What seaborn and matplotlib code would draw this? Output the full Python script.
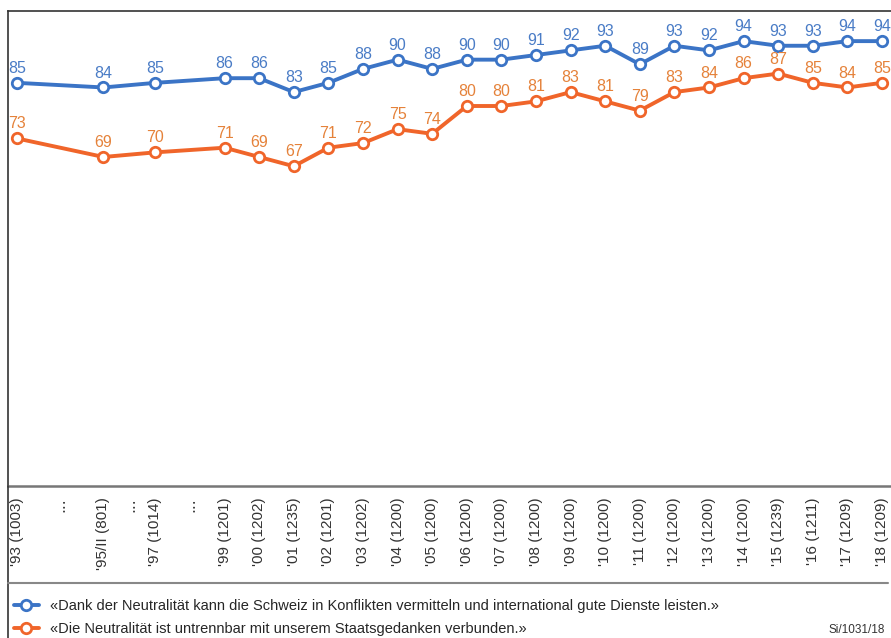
import pandas as pd
import seaborn as sns
import matplotlib.pyplot as plt
from matplotlib.lines import Line2D

# survey years (sample size) and position on the time axis
jahre = ["'93 (1003)", "'95/II (801)", "'97 (1014)", "'99 (1201)", "'00 (1202)",
         "'01 (1235)", "'02 (1201)", "'03 (1202)", "'04 (1200)", "'05 (1200)",
         "'06 (1200)", "'07 (1200)", "'08 (1200)", "'09 (1200)", "'10 (1200)",
         "'11 (1200)", "'12 (1200)", "'13 (1200)", "'14 (1200)", "'15 (1239)",
         "'16 (1211)", "'17 (1209)", "'18 (1209)"]
xpos = [0, 2.5, 4, 6, 7, 8, 9, 10, 11, 12, 13, 14, 15, 16, 17, 18, 19, 20,
        21, 22, 23, 24, 25]
luecken = [1.25, 3.25, 5]   # gaps marked with dots

vermitteln = [85, 84, 85, 86, 86, 83, 85, 88, 90, 88, 90, 90, 91, 92, 93, 89,
              93, 92, 94, 93, 93, 94, 94]
staatsgedanke = [73, 69, 70, 71, 69, 67, 71, 72, 75, 74, 80, 80, 81, 83, 81, 79,
                 83, 84, 86, 87, 85, 84, 85]

label_blau = "«Dank der Neutralität kann die Schweiz in Konflikten vermitteln und international gute Dienste leisten.»"
label_orange = "«Die Neutralität ist untrennbar mit unserem Staatsgedanken verbunden.»"

blau, blau_txt = "#3b74c6", "#4a7cc6"
orange, orange_txt = "#f0652a", "#e5823a"

df = pd.DataFrame({"x": xpos * 2,
                   "wert": vermitteln + staatsgedanke,
                   "serie": ["blau"] * len(xpos) + ["orange"] * len(xpos)})

sns.set_style("white")
plt.rcParams['font.family'] = ['Liberation Sans', 'DejaVu Sans']

fig = plt.figure(figsize=(8.91, 6.38), dpi=100)
ax = fig.add_axes([8/891, (638-486)/638, 883/891, (486-11)/638])

for serie, col, txtcol in [("blau", blau, blau_txt), ("orange", orange, orange_txt)]:
    d = df[df.serie == serie]
    sns.lineplot(data=d, x="x", y="wert", ax=ax, color=col, lw=2.8,
                 marker="o", markersize=7.5, mfc="white", mec=col, mew=2,
                 legend=False)
    for xx, v in zip(d.x, d.wert):
        ax.annotate(str(v), (xx, v), xytext=(0, 5), textcoords="offset points",
                    ha="center", va="bottom", fontsize=11.5, color=txtcol)

ax.set_xlim(-0.26, 25.26)
ax.set_ylim(-2, 100.5)
ax.set_xticks(xpos)
ax.set_xticklabels(jahre, rotation=90, fontsize=11, color="#333333")
ax.tick_params(axis="x", direction="out", length=5, width=1.2, color="#777777", pad=3)
ax.set_yticks([])
ax.set_xlabel("")
ax.set_ylabel("")

for xx in luecken:
    ax.text(xx, -0.025, "...", rotation=90, transform=ax.get_xaxis_transform(),
            ha="center", va="top", fontsize=13, color="#444444")

ax.spines["right"].set_visible(False)
ax.spines["top"].set_color("#333333")
ax.spines["top"].set_linewidth(1.2)
ax.spines["left"].set_color("#333333")
ax.spines["left"].set_linewidth(1.2)
ax.spines["bottom"].set_color("#777777")
ax.spines["bottom"].set_linewidth(1.8)

# frame lines of the graphic below the plot
fig.add_artist(Line2D([8/891, 8/891], [0, (638-486)/638], color="#333333", lw=1.2))
fig.add_artist(Line2D([8/891, 888/891], [(638-583)/638]*2, color="#888888", lw=1.5))

handles = [Line2D([], [], color=blau, lw=2.8, marker="o", markersize=7.5,
                  mfc="white", mec=blau, mew=2),
           Line2D([], [], color=orange, lw=2.8, marker="o", markersize=7.5,
                  mfc="white", mec=orange, mew=2)]
fig.legend(handles, [label_blau, label_orange], loc="upper left",
           bbox_to_anchor=(14/891, (638-599)/638), frameon=False, fontsize=10.5,
           handlelength=1.7, handletextpad=0.75, labelspacing=0.65, borderpad=0,
           borderaxespad=0)

fig.text(885/891, (638-630)/638, "Si/1031/18", ha="right", va="center",
         fontsize=8.5, color="#333333")

fig.savefig("out.png", dpi=100)
